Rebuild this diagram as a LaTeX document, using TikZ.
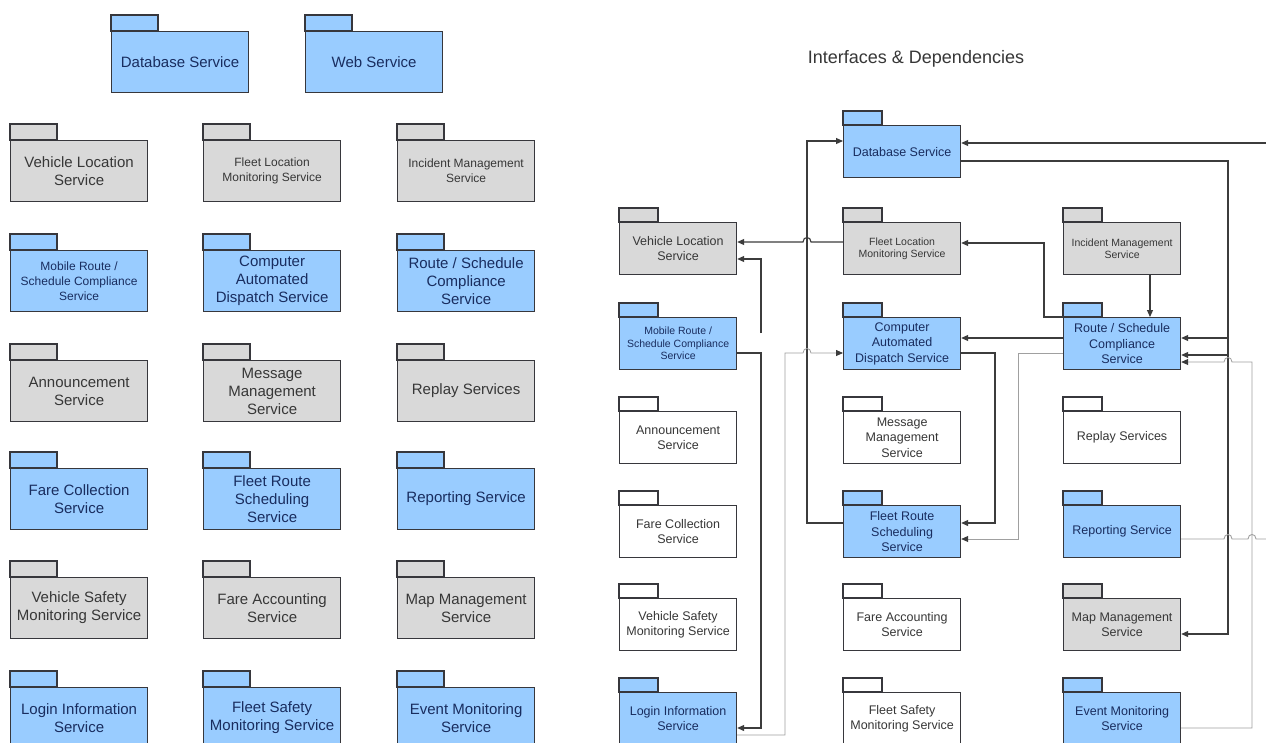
\documentclass[tikz,border=0pt]{standalone}
\usepackage{fontspec}
\setmainfont{Liberation Sans}
\usetikzlibrary{arrows.meta,positioning}

\definecolor{pkgblue}{RGB}{153,204,255}
\definecolor{pkggray}{RGB}{217,217,217}
\definecolor{pkgline}{RGB}{55,55,60}
\definecolor{bluetext}{RGB}{25,45,95}
\definecolor{graytext}{RGB}{55,55,55}
\definecolor{depdark}{RGB}{60,60,60}
\definecolor{deplight}{RGB}{160,160,160}

\tikzset{
  bigpkg/.style={rectangle,anchor=north west,minimum width=137pt,minimum height=61pt,
    inner sep=1pt,align=center,font=\fontsize{15}{18}\selectfont},
  smallpkg/.style={rectangle,anchor=north west,minimum width=117pt,minimum height=52pt,
    inner sep=1pt,align=center,font=\fontsize{12.5}{15.5}\selectfont},
  bluepkg/.style={draw=pkgline,line width=1.2pt,fill=pkgblue,text=bluetext},
  graypkg/.style={draw=pkgline,line width=1.2pt,fill=pkggray,text=graytext},
  whitepkg/.style={draw=pkgline,line width=1.2pt,fill=white,text=graytext},
  dep/.style={draw=depdark,line width=1.1pt,-{Triangle[length=7pt,width=6pt]}},
  deplite/.style={draw=deplight,line width=0.8pt,-{Triangle[length=7pt,width=6pt,color=depdark]}},
  depnone/.style={draw=deplight,line width=0.9pt}
}

% package = body node plus its tab
\newcommand{\leftpkg}[5][]{%
  \node[bigpkg,#2,#1] (#3) at #4 {#5};
  \draw[#2] (#3.north west) rectangle ++(47,-16);}
\newcommand{\rightpkg}[5][]{%
  \node[smallpkg,#2,#1] (#3) at #4 {#5};
  \draw[#2] (#3.north west) rectangle ++(39,-14);}

\begin{document}
\begin{tikzpicture}[x=1pt,y=-1pt]
  \clip (0,0) rectangle (1266,742);
  \fill[white] (0,0) rectangle (1266,742);

  % all services
  \leftpkg{bluepkg}{ldb}{(111,31)}{Database Service}
  \leftpkg{bluepkg}{lweb}{(305,31)}{Web Service}

  \leftpkg{graypkg}{lvl}{(10,140)}{Vehicle Location\\Service}
  \leftpkg[font=\fontsize{12}{15}\selectfont]{graypkg}{lflm}{(203,140)}{Fleet Location\\Monitoring Service}
  \leftpkg[font=\fontsize{12}{15}\selectfont]{graypkg}{lim}{(397,140)}{Incident Management\\Service}

  \leftpkg[font=\fontsize{12}{15}\selectfont]{bluepkg}{lmob}{(10,250)}{Mobile Route /\\Schedule Compliance\\Service}
  \leftpkg{bluepkg}{lcad}{(203,250)}{Computer\\Automated\\Dispatch Service}
  \leftpkg{bluepkg}{lrsc}{(397,250)}{Route / Schedule\\Compliance\\Service}

  \leftpkg{graypkg}{lann}{(10,360)}{Announcement\\Service}
  \leftpkg{graypkg}{lmsg}{(203,360)}{Message\\Management\\Service}
  \leftpkg{graypkg}{lrep}{(397,360)}{Replay Services}

  \leftpkg{bluepkg}{lfare}{(10,468)}{Fare Collection\\Service}
  \leftpkg{bluepkg}{lfrs}{(203,468)}{Fleet Route\\Scheduling\\Service}
  \leftpkg{bluepkg}{lrpt}{(397,468)}{Reporting Service}

  \leftpkg{graypkg}{lvsm}{(10,577)}{Vehicle Safety\\Monitoring Service}
  \leftpkg{graypkg}{lfa}{(203,577)}{Fare Accounting\\Service}
  \leftpkg{graypkg}{lmap}{(397,577)}{Map Management\\Service}

  \leftpkg{bluepkg}{llog}{(10,687)}{Login Information\\Service}
  \leftpkg{bluepkg}{lfsm}{(203,687)}{Fleet Safety\\Monitoring Service}
  \leftpkg{bluepkg}{lem}{(397,687)}{Event Monitoring\\Service}

  % interfaces & dependencies
  \node[font=\fontsize{18}{22}\selectfont,text=graytext] (title) at (916,59) {Interfaces \& Dependencies};

  \rightpkg{bluepkg}{rdb}{(843,125)}{Database Service}

  \rightpkg{graypkg}{rvl}{(619,222)}{Vehicle Location\\Service}
  \rightpkg[font=\fontsize{10.5}{12.5}\selectfont]{graypkg}{rflm}{(843,222)}{Fleet Location\\Monitoring Service}
  \rightpkg[font=\fontsize{10.5}{12.5}\selectfont]{graypkg}{rim}{(1063,222)}{Incident Management\\Service}

  \rightpkg[font=\fontsize{10.5}{12.5}\selectfont]{bluepkg}{rmob}{(619,317)}{Mobile Route /\\Schedule Compliance\\Service}
  \rightpkg{bluepkg}{rcad}{(843,317)}{Computer\\Automated\\Dispatch Service}
  \rightpkg{bluepkg}{rrsc}{(1063,317)}{Route / Schedule\\Compliance\\Service}

  \rightpkg{whitepkg}{rann}{(619,411)}{Announcement\\Service}
  \rightpkg{whitepkg}{rmsg}{(843,411)}{Message\\Management\\Service}
  \rightpkg{whitepkg}{rrep}{(1063,411)}{Replay Services}

  \rightpkg{whitepkg}{rfare}{(619,505)}{Fare Collection\\Service}
  \rightpkg{bluepkg}{rfrs}{(843,505)}{Fleet Route\\Scheduling\\Service}
  \rightpkg{bluepkg}{rrpt}{(1063,505)}{Reporting Service}

  \rightpkg{whitepkg}{rvsm}{(619,598)}{Vehicle Safety\\Monitoring Service}
  \rightpkg{whitepkg}{rfa}{(843,598)}{Fare Accounting\\Service}
  \rightpkg{graypkg}{rmap}{(1063,598)}{Map Management\\Service}

  \rightpkg{bluepkg}{rlog}{(619,692)}{Login Information\\Service}
  \rightpkg{whitepkg}{rfsm}{(843,692)}{Fleet Safety\\Monitoring Service}
  \rightpkg{bluepkg}{rem}{(1063,692)}{Event Monitoring\\Service}

  \coordinate (mobtop) at (761,333);
  \coordinate (dbin) at (1270,143);
  \coordinate (rptout) at (1270,539);
  \coordinate (dbsplit) at (1228,338);

  % connectors
  \draw[dep] (rfrs.west |- 0,523) -- (807,523) -- (807,141) -- (rdb.west |- 0,141);
  \draw[dep] (rflm.west |- 0,242) -- (811,242) .. controls (811,236) and (803,236) .. (803,242)
    -- (rvl.east |- 0,242);
  \draw[dep] (mobtop) -- (761,259) -- (rvl.east |- 0,259);
  \draw[dep] (rmob.east |- 0,353) -- (761,353) -- (761,728) -- (rlog.east |- 0,728);
  \draw[deplite] (rlog.east |- 0,735) -- (785,735) -- (785,353) -- (803,353)
    .. controls (803,347) and (811,347) .. (811,353) -- (rcad.west |- 0,353);
  \draw[dep] (rcad.east |- 0,353) -- (995,353) -- (995,523) -- (rfrs.east |- 0,523);
  \draw[deplite] (rrsc.west |- 0,353) -- (1018,353) -- (1018,539) -- (rfrs.east |- 0,539);
  \draw[dep] (rrsc.west |- 0,338) -- (rcad.east |- 0,338);
  \draw[dep] (rrsc.north west) -- (1044,317) -- (1044,243) -- (rflm.east |- 0,243);
  \draw[dep] (rim.south -| 1150,0) -- (rrsc.north -| 1150,0);
  \draw[dep] (rdb.east |- 0,161) -- (1228,161) -- (1228,634) -- (rmap.east |- 0,634);
  \draw[dep] (dbsplit) -- (rrsc.east |- 0,338);
  \draw[dep] (dbsplit |- 0,355) -- (rrsc.east |- 0,355);
  \draw[deplite] (rem.east |- 0,728) -- (1252,728) -- (1252,362) -- (1232,362)
    .. controls (1232,356) and (1224,356) .. (1224,362) -- (rrsc.east |- 0,362);
  \draw[depnone] (rrpt.east |- 0,539) -- (1224,539) .. controls (1224,533) and (1232,533) .. (1232,539)
    -- (1248,539) .. controls (1248,533) and (1256,533) .. (1256,539) -- (rptout);
  \draw[dep] (dbin) -- (rdb.east |- 0,143);
\end{tikzpicture}
\end{document}
